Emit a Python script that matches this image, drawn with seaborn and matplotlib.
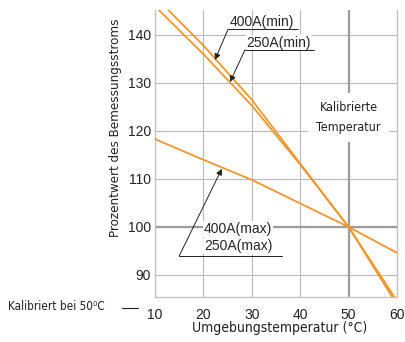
import pandas as pd
import matplotlib.pyplot as plt
import seaborn as sns
from matplotlib.lines import Line2D

# values
temps = [10, 20, 30, 40, 50, 60]
min_400 = [146.0, 136.0, 125.3, 113.0, 100.0, 83.8]
min_250 = [148.0, 137.8, 126.5, 113.2, 100.0, 84.6]
max_temps = [10, 20, 30, 50, 60]
max_both = [118.3, 114.0, 109.8, 100.0, 94.6]

x_ticks = [10, 20, 30, 40, 50, 60]
y_ticks = [90, 100, 110, 120, 130, 140]

ORANGE = '#f0962c'
PLAIN = ['Liberation Sans', 'DejaVu Sans']


def cond(size, **kw):
    # narrow lettering used for the axis titles and notes
    return dict(family='DejaVu Sans', fontstretch='condensed', fontsize=size, **kw)


def main():
    df = pd.concat([
        pd.DataFrame({'temp': temps, 'value': min_400, 'series': '400A(min)'}),
        pd.DataFrame({'temp': temps, 'value': min_250, 'series': '250A(min)'}),
        pd.DataFrame({'temp': max_temps, 'value': max_both, 'series': 'max'}),
    ])

    sns.set_style("whitegrid")
    plt.rcParams['font.family'] = PLAIN

    fig = plt.figure(figsize=(4.05, 3.42), dpi=100)
    ax = fig.add_axes([0.3827, 0.1316, 0.5975, 0.8392])

    ax.grid(True, color='#b9b9b9', linewidth=0.8)
    ax.axvline(50, color='#9c9c9c', linewidth=1.6, zorder=1)
    ax.axhline(100, color='#9c9c9c', linewidth=1.6, zorder=1)

    palette = {'400A(min)': ORANGE, '250A(min)': ORANGE, 'max': ORANGE}
    sns.lineplot(data=df, x='temp', y='value', hue='series', palette=palette,
                 legend=False, linewidth=1.3, ax=ax, zorder=3, sort=False)

    ax.set_xlim(10, 60)
    ax.set_ylim(85.4, 145.2)
    ax.set_xticks(x_ticks)
    ax.set_yticks(y_ticks)
    ax.tick_params(axis='both', length=0, labelsize=10, colors='#222222')
    ax.tick_params(axis='x', pad=8)
    ax.tick_params(axis='y', pad=3)

    for s in ['left', 'bottom', 'right']:
        ax.spines[s].set_color('#c4c4c4')
        ax.spines[s].set_linewidth(1.0)
    ax.spines['top'].set_visible(False)

    ax.set_xlabel('Umgebungstemperatur (°C)', color='#222222', **cond(10))
    ax.set_ylabel('Prozentwert des Bemessungsstroms', color='#222222', **cond(9.5))
    ax.xaxis.set_label_coords(0.516, -0.085)
    ax.yaxis.set_label_coords(-0.135, 0.59)

    arrow = dict(arrowstyle='-|>', color='#222222', linewidth=0.7, mutation_scale=9,
                 shrinkA=0, shrinkB=0)
    # min annotations
    ax.annotate('', xy=(22.4, 134.8), xytext=(25.1, 141.2), arrowprops=arrow, zorder=5)
    ax.plot([25.1, 39.5], [141.2, 141.2], color='#222222', linewidth=0.7, zorder=5)
    ax.text(32.1, 142.6, '400A(min)', ha='center', va='center', fontsize=10, zorder=6)
    ax.annotate('', xy=(25.5, 130.2), xytext=(28.6, 136.9), arrowprops=arrow, zorder=5)
    ax.plot([28.6, 42.9], [136.9, 136.9], color='#222222', linewidth=0.7, zorder=5)
    ax.text(35.6, 138.4, '250A(min)', ha='center', va='center', fontsize=10, zorder=6,
            bbox=dict(facecolor='white', edgecolor='none', pad=0.3))

    # max annotation
    ax.annotate('', xy=(23.8, 112.1), xytext=(15.0, 93.95), arrowprops=arrow, zorder=5)
    ax.plot([15.0, 36.2], [93.95, 93.95], color='#222222', linewidth=0.7, zorder=5)
    ax.text(20.1, 99.6, '400A(max)', ha='left', va='center', fontsize=10, zorder=6,
            bbox=dict(facecolor='white', edgecolor='none', pad=0.5))
    ax.text(20.1, 96.0, '250A(max)', ha='left', va='center', fontsize=10, zorder=6,
            bbox=dict(facecolor='white', edgecolor='none', pad=0.5))

    ax.text(50, 122.8, 'Kalibrierte\nTemperatur', ha='center', va='center',
            linespacing=1.7, color='#222222', zorder=6,
            bbox=dict(facecolor='white', edgecolor='none', pad=6), **cond(9))

    fig.text(0.02, 0.105, 'Kalibriert bei 50⁰C', va='center', ha='left',
             color='#222222', **cond(8.5))
    fig.add_artist(Line2D([122 / 405, 138 / 405], [1 - 308 / 342] * 2,
                          color='#222222', linewidth=0.8))

    plt.savefig('out.png', dpi=100)


if __name__ == "__main__": main()
